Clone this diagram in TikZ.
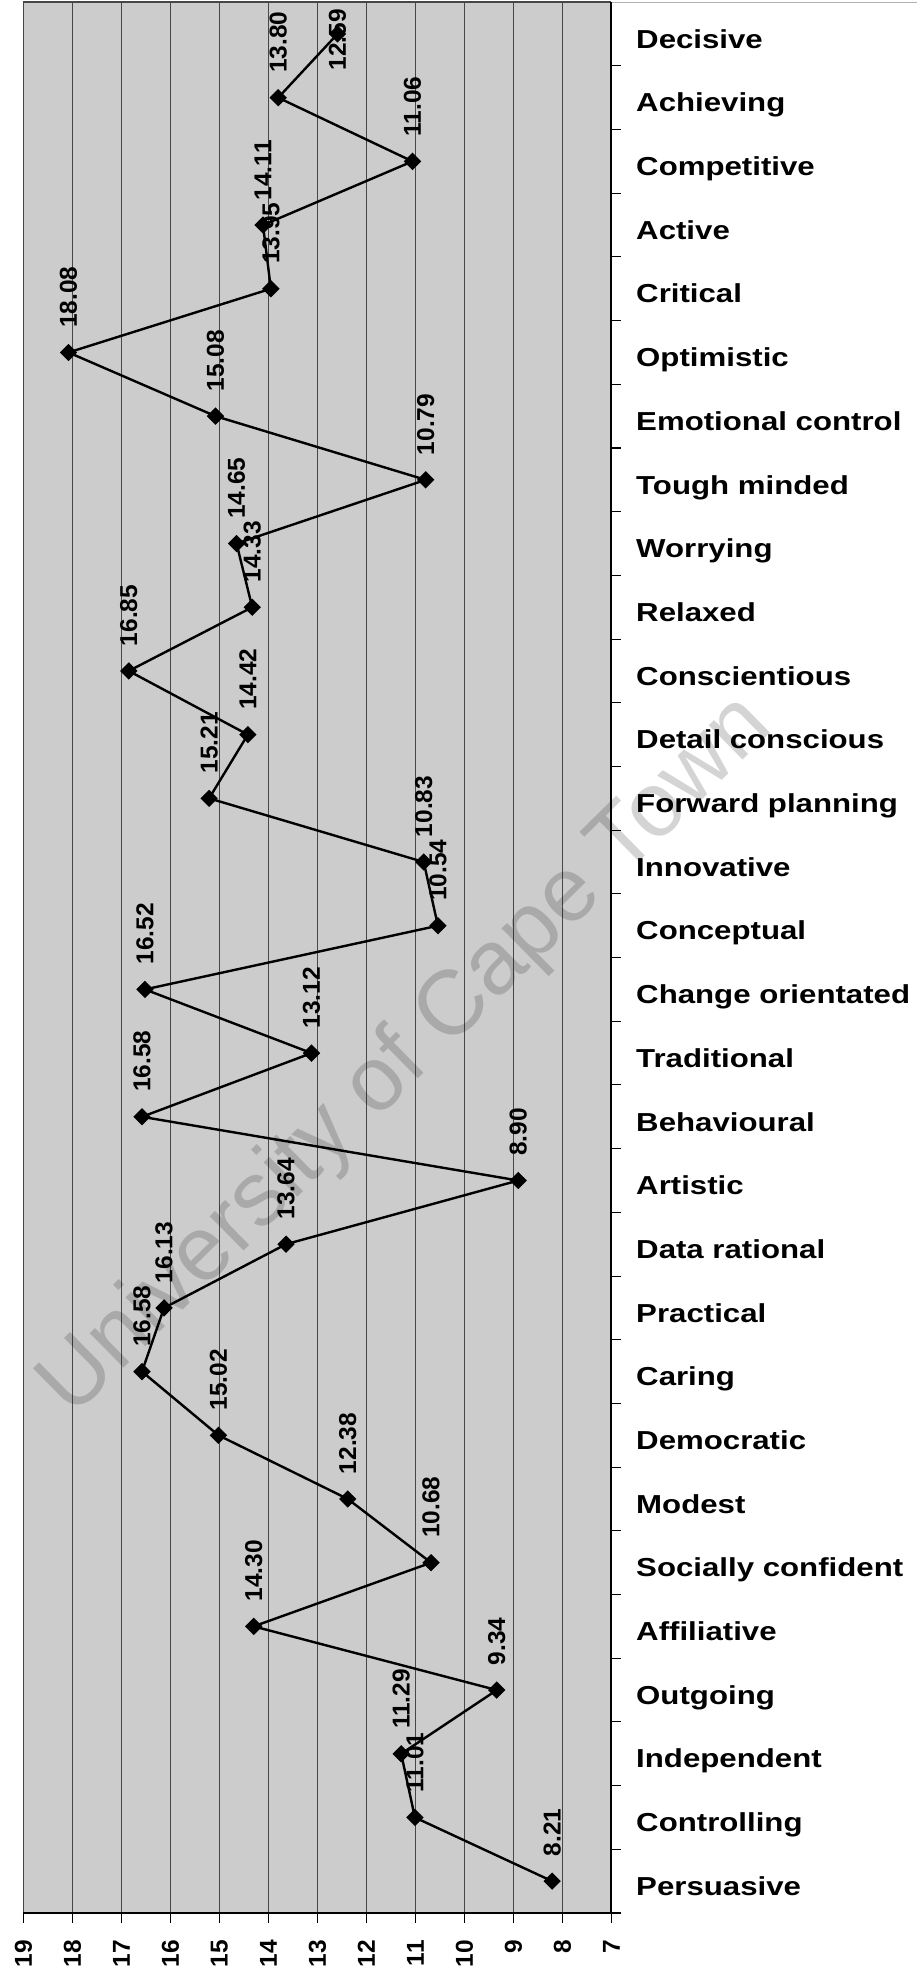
\documentclass[tikz,border=0pt]{standalone}
\usepackage{fontspec}
\setmainfont{Liberation Sans}
\newfontfamily\catfont[FakeStretch=1.2]{Liberation Sans Bold}
\usepackage{tikz}
\usetikzlibrary{shapes.geometric}
\definecolor{plotgray}{RGB}{204,204,204}
\definecolor{gridgray}{RGB}{70,70,70}
\tikzset{marker/.style={diamond,fill=black,inner sep=0pt,minimum size=0.36cm}}
\tikzset{vallabel/.style={rotate=90,anchor=west,inner sep=0pt,font=\bfseries\fontsize{14.2}{16}\selectfont}}
\tikzset{ticklabel/.style={rotate=90,anchor=east,inner sep=0pt,font=\bfseries\fontsize{14.2}{16}\selectfont}}
\tikzset{catlabel/.style={anchor=base west,inner sep=0pt,font=\catfont\fontsize{15.1}{18}\selectfont}}
\tikzset{watermark/.style={rotate=44.5,text=black,text opacity=0.17,font=\fontsize{53}{60}\selectfont}}

\begin{document}
\begin{tikzpicture}
\useasboundingbox (-0.478,-1.306) rectangle (18.237,39.044);
\fill[plotgray] (0,0) rectangle (12,39);
\foreach \x in {0,...,11} {
\draw[gridgray,line width=0.5pt] (\x,0) -- (\x,39);
}
\draw[gridgray,line width=0.8pt] (0,39) -- (12,39);
\draw[black!30,line width=0.5pt] (12,39) -- (18.237,39);
\draw[line width=1.2pt] (0,0) -- (12,0) -- (12,39);
\foreach \x in {0,...,12} {
\pgfmathtruncatemacro\t{19-\x}
\draw[line width=0.6pt] (\x,0) -- (\x,-0.2);
\node[ticklabel] (t\t) at (\x,-0.55) {\t};
}
\foreach \k in {0,...,29} {
\draw[line width=0.6pt] (12,1.3*\k) -- (12.2,1.3*\k);
}
% scores, bottom to top
\foreach \v/\name [count=\i] in {8.21/Persuasive, 11.01/Controlling,
  11.29/Independent, 9.34/Outgoing, 14.30/Affiliative,
  10.68/Socially confident, 12.38/Modest, 15.02/Democratic,
  16.58/Caring, 16.13/Practical, 13.64/Data rational, 8.90/Artistic,
  16.58/Behavioural, 13.12/Traditional, 16.52/Change orientated,
  10.54/Conceptual, 10.83/Innovative, 15.21/Forward planning,
  14.42/Detail conscious, 16.85/Conscientious, 14.33/Relaxed,
  14.65/Worrying, 10.79/Tough minded, 15.08/Emotional control,
  18.08/Optimistic, 13.95/Critical, 14.11/Active, 11.06/Competitive,
  13.80/Achieving, 12.59/Decisive} {
\pgfmathsetmacro\px{19-\v}
\pgfmathsetmacro\py{1.3*\i-0.65}
\pgfmathsetmacro\ly{min(\py+0.5,37.6)}
\node[marker] (p\i) at (\px,\py) {};
\node[vallabel] (l\i) at (\px,\ly) {\v};
\node[catlabel] (c\i) at (12.5,\py-0.29) {\name};
}
\foreach \i [remember=\i as \j (initially 1)] in {2,...,30} {
\draw[line width=1.4pt] (p\j.center) -- (p\i.center);
}
\node[watermark] (wm) at (7.83,17.47) {University of Cape Town};
\end{tikzpicture}
\end{document}
